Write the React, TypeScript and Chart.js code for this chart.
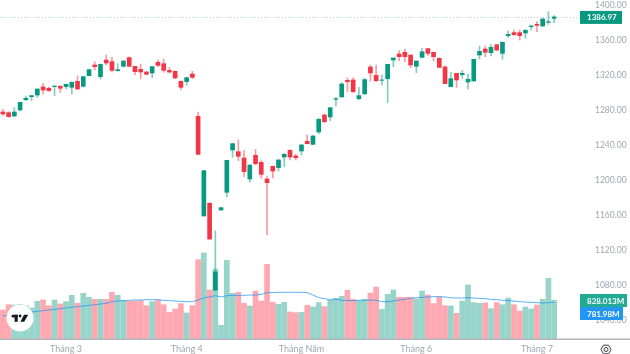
import React, { useEffect, useRef } from "react";
import { Chart, registerables } from "chart.js";

Chart.register(...registerables);

const monthTicks = [11, 32, 52, 72, 93];
const monthNames = ["Tháng 3", "Tháng 4", "Tháng Năm", "Tháng 6", "Tháng 7"];
const slotCount = 101;
const priceTicks = [1040, 1080, 1120, 1160, 1200, 1240, 1280, 1320, 1360, 1400];

const opens = [
  1278.3, 1277.5, 1273.7, 1280.6, 1292.4, 1295.8, 1297.7, 1306.9, 1305.4, 1307.3, 1307.6, 1307.3, 1306.5, 1313.4, 1307.6, 1319.8, 1332.0,
  1318.7, 1337.7, 1335.8, 1325.5, 1330.5, 1340.4, 1330.5, 1327.1, 1324.0, 1322.9, 1335.1, 1333.5, 1325.9, 1324.8, 1313.4, 1313.0, 1321.7,
  1273.3, 1159.4, 1173.9, 1074.8, 1166.3, 1186.5, 1234.9, 1232.9, 1225.7, 1201.7, 1228.8, 1220.8, 1201.7, 1216.2, 1214.7, 1226.8, 1234.5,
  1228.0, 1233.7, 1244.8, 1241.3, 1255.4, 1274.9, 1272.6, 1292.8, 1295.5, 1314.5, 1314.9, 1293.5, 1298.9, 1329.7, 1320.2, 1314.5, 1316.4,
  1337.7, 1344.6, 1346.5, 1343.4, 1330.5, 1340.8, 1350.7, 1346.5, 1339.6, 1329.7, 1307.2, 1322.5, 1320.9, 1312.6, 1313.7, 1343.4, 1350.3,
  1346.1, 1355.2, 1345.3, 1365.5, 1369.0, 1369.0, 1368.6, 1375.8, 1378.5, 1376.6, 1380.8, 1385.3,
];
const closes = [
  1276.0, 1273.0, 1278.3, 1289.4, 1293.9, 1297.0, 1304.6, 1303.4, 1302.7, 1308.0, 1305.4, 1309.9, 1312.2, 1304.6, 1318.7, 1326.7, 1330.1,
  1332.8, 1334.3, 1325.9, 1326.7, 1336.6, 1330.5, 1324.4, 1324.0, 1321.4, 1330.1, 1331.6, 1325.9, 1324.0, 1317.2, 1306.5, 1317.5, 1317.9,
  1229.9, 1211.2, 1133.1, 1095.4, 1168.9, 1223.0, 1242.1, 1227.6, 1210.1, 1217.7, 1219.2, 1207.0, 1197.5, 1210.8, 1223.4, 1229.9, 1226.8,
  1226.1, 1240.6, 1242.1, 1250.9, 1269.9, 1267.2, 1283.2, 1293.5, 1310.3, 1313.0, 1301.5, 1297.0, 1315.3, 1322.9, 1314.1, 1314.9, 1332.8,
  1340.0, 1341.5, 1341.5, 1332.0, 1336.6, 1347.2, 1345.3, 1341.5, 1329.3, 1310.7, 1316.4, 1314.9, 1322.5, 1315.6, 1338.5, 1347.6, 1346.5,
  1352.2, 1349.1, 1357.9, 1367.0, 1366.7, 1365.5, 1371.6, 1376.6, 1377.3, 1384.6, 1381.5, 1386.97,
];
const highs = [
  1281.4, 1278.7, 1283.3, 1289.4, 1296.6, 1297.4, 1304.6, 1310.7, 1306.9, 1308.0, 1308.8, 1310.3, 1313.0, 1319.5, 1318.7, 1327.1, 1335.8,
  1333.2, 1343.5, 1340.8, 1333.5, 1336.6, 1341.2, 1330.5, 1332.8, 1324.8, 1330.5, 1337.7, 1338.9, 1329.4, 1325.2, 1313.7, 1317.9, 1324.8,
  1278.3, 1211.2, 1175.0, 1142.3, 1169.3, 1223.0, 1242.5, 1246.3, 1234.1, 1217.7, 1235.6, 1222.7, 1204.4, 1216.6, 1224.6, 1231.0, 1234.9,
  1229.9, 1241.3, 1252.0, 1251.2, 1271.4, 1276.0, 1283.6, 1295.1, 1311.8, 1317.2, 1317.2, 1306.5, 1316.8, 1332.0, 1332.0, 1320.6, 1332.8,
  1340.0, 1348.4, 1349.9, 1343.4, 1336.6, 1351.0, 1350.7, 1346.5, 1340.4, 1331.2, 1323.6, 1322.5, 1325.9, 1321.3, 1338.5, 1353.7, 1353.7,
  1355.2, 1355.2, 1358.7, 1370.9, 1372.0, 1372.0, 1372.8, 1377.7, 1381.5, 1385.3, 1393.0, 1388.4,
];
const lows = [
  1274.5, 1272.2, 1273.0, 1279.4, 1291.3, 1291.3, 1295.1, 1298.9, 1301.9, 1297.0, 1300.8, 1304.6, 1298.9, 1303.8, 1306.9, 1319.5, 1326.3,
  1316.0, 1332.0, 1324.0, 1324.8, 1329.7, 1330.1, 1321.0, 1316.4, 1320.6, 1317.5, 1330.1, 1323.6, 1322.5, 1316.4, 1303.4, 1308.8, 1316.4,
  1229.9, 1159.4, 1132.0, 1073.7, 1165.9, 1181.1, 1226.5, 1222.7, 1204.4, 1197.9, 1217.7, 1202.5, 1137.7, 1202.8, 1210.8, 1215.8, 1223.4,
  1223.4, 1229.1, 1241.7, 1240.9, 1253.5, 1265.7, 1268.4, 1285.2, 1295.1, 1301.9, 1300.8, 1292.0, 1298.9, 1313.7, 1313.0, 1309.2, 1288.9,
  1330.1, 1336.9, 1335.8, 1328.9, 1323.2, 1340.0, 1343.0, 1336.6, 1328.9, 1310.3, 1307.2, 1306.5, 1316.8, 1304.6, 1313.7, 1338.9, 1341.5,
  1342.3, 1348.4, 1338.5, 1363.2, 1365.9, 1360.6, 1362.5, 1372.0, 1370.1, 1375.8, 1378.5, 1380.4,
];
const volumes = [
  618, 731, 724, 738, 703, 660, 802, 831, 710, 831, 746, 795, 930, 760, 973, 888, 845, 845, 845, 994, 930, 824, 802, 809, 817, 710, 795,
  831, 731, 568, 639, 753, 554, 710, 1690, 1832, 1044, 1491, 291, 1676, 973, 994, 760, 703, 1022, 809, 1590, 781, 738, 781, 575, 561, 568,
  717, 682, 774, 689, 831, 866, 909, 1037, 845, 817, 845, 980, 1108, 632, 951, 1044, 888, 888, 888, 852, 1022, 937, 753, 895, 710, 703, 547,
  809, 1150, 774, 760, 767, 646, 774, 731, 873, 731, 596, 682, 639, 724, 845, 1292, 828.013,
];
const volumeMA = [
  490, 504, 518, 533, 547, 575, 589, 604, 618, 632, 646, 660, 675, 689, 703, 717, 731, 746, 760, 795, 809, 817, 824, 831, 831, 838, 838, 838,
  824, 817, 809, 802, 795, 795, 831, 880, 895, 923, 895, 923, 930, 930, 930, 937, 937, 951, 987, 987, 994, 994, 994, 994, 994, 987, 937, 880,
  859, 831, 852, 824, 817, 817, 824, 824, 831, 824, 795, 795, 809, 831, 845, 866, 880, 888, 895, 902, 902, 895, 880, 873, 873, 880, 873, 866,
  859, 845, 838, 824, 817, 809, 795, 788, 781, 774, 767, 774, 781.98,
];

const GREEN = "#089981";
const RED = "#F23645";
const FONT = "Lato, 'Open Sans', sans-serif";

const isUp = (i: number) => closes[i] >= opens[i];
const labels = Array.from({ length: slotCount }, (_, i) => {
  const k = monthTicks.indexOf(i);
  return k >= 0 ? monthNames[k] : "";
});

function box(ctx: CanvasRenderingContext2D, y: number, w: number, h: number, color: string, text: string) {
  ctx.fillStyle = color;
  ctx.fillRect(580, y - h / 2, w, h);
  ctx.fillStyle = "#ffffff";
  ctx.font = `bold 8px ${FONT}`;
  ctx.textAlign = "left";
  ctx.textBaseline = "middle";
  ctx.fillText(text, 587, y + 0.5);
}

const overlay = {
  id: "overlay",
  afterDatasetsDraw(chart: any) {
    const ctx = chart.ctx as CanvasRenderingContext2D;
    const yP = chart.scales.y;
    const last = closes[closes.length - 1];
    const py = yP.getPixelForValue(last);
    ctx.save();
    ctx.strokeStyle = "rgba(8,153,129,0.35)";
    ctx.lineWidth = 1;
    ctx.setLineDash([1, 2]);
    ctx.beginPath();
    ctx.moveTo(0, Math.round(py) + 0.5);
    ctx.lineTo(580, Math.round(py) + 0.5);
    ctx.stroke();
    ctx.setLineDash([]);

    ctx.fillStyle = "#b2b5be";
    ctx.fillRect(0, 338.5, 630, 1.5);

    ctx.fillStyle = "#ffffff";
    ctx.beginPath();
    ctx.arc(20, 318, 13.5, 0, Math.PI * 2);
    ctx.fill();
    ctx.fillStyle = "#131722";
    ctx.fillRect(11.7, 314.8, 6, 2.6);
    ctx.fillRect(14.6, 314.8, 3.1, 7);
    ctx.beginPath();
    ctx.arc(20.1, 316, 1.4, 0, Math.PI * 2);
    ctx.fill();
    ctx.beginPath();
    ctx.moveTo(24, 314.8);
    ctx.lineTo(28.2, 314.8);
    ctx.lineTo(24.2, 321.8);
    ctx.lineTo(20.4, 321.8);
    ctx.closePath();
    ctx.fill();

    ctx.strokeStyle = "#3a3e48";
    ctx.lineWidth = 1;
    ctx.beginPath();
    for (let k = 0; k < 6; k++) {
      const a = (Math.PI / 3) * k;
      const px = 606 + 5 * Math.cos(a);
      const pyy = 349.5 + 5 * Math.sin(a);
      if (k === 0) ctx.moveTo(px, pyy);
      else ctx.lineTo(px, pyy);
    }
    ctx.closePath();
    ctx.stroke();
    ctx.beginPath();
    ctx.arc(606, 349.5, 2, 0, Math.PI * 2);
    ctx.stroke();

    box(ctx, py + 0.5, 42, 13, GREEN, last.toFixed(2));
    box(ctx, 300.5, 47, 13, "#22ab94", volumes[volumes.length - 1].toFixed(3) + "M");
    box(ctx, 313.5, 43, 13, "#2196f3", volumeMA[volumeMA.length - 1].toFixed(2) + "M");
    ctx.restore();
  },
};

const zeroPadding = (s: any) => {
  s.paddingTop = 0;
  s.paddingBottom = 0;
  s.paddingLeft = 0;
  s.paddingRight = 0;
};

export default function App() {
  const ref = useRef<HTMLCanvasElement>(null);
  useEffect(() => {
    const chart = new Chart(ref.current as HTMLCanvasElement, {
      type: "bar",
      data: {
        labels,
        datasets: [
          {
            type: "bar",
            label: "Body",
            data: opens.map((o, i) => [o, closes[i]]),
            backgroundColor: opens.map((_, i) => (isUp(i) ? GREEN : RED)),
            barThickness: 4,
            grouped: false,
            yAxisID: "y",
            order: 0,
            borderSkipped: false,
          },
          {
            type: "bar",
            label: "Wick",
            data: lows.map((l, i) => [l, highs[i]]),
            backgroundColor: opens.map((_, i) => (isUp(i) ? "rgba(8,153,129,0.5)" : "rgba(242,54,69,0.5)")),
            barThickness: 1,
            grouped: false,
            yAxisID: "y",
            order: 1,
            borderSkipped: false,
          },
          {
            type: "line",
            label: "Volume MA",
            data: volumeMA,
            borderColor: "rgba(33,150,243,0.75)",
            borderWidth: 1,
            pointRadius: 0,
            tension: 0,
            yAxisID: "yVol",
            order: 2,
          },
          {
            type: "bar",
            label: "Volume",
            data: volumes,
            backgroundColor: opens.map((_, i) => (isUp(i) ? "rgba(8,153,129,0.42)" : "rgba(255,82,100,0.5)")),
            barThickness: 5,
            grouped: false,
            yAxisID: "yVol",
            order: 3,
          },
        ],
      } as any,
      options: {
        responsive: false,
        animation: false,
        layout: { padding: 0 },
        plugins: { legend: { display: false }, tooltip: { enabled: false } },
        scales: {
          x: {
            type: "category",
            grid: { display: false, drawTicks: false },
            border: { display: false },
            afterFit: (s: any) => {
              s.height = 15;
              zeroPadding(s);
            },
            ticks: {
              autoSkip: false,
              maxRotation: 0,
              minRotation: 0,
              padding: 5,
              color: "#a3a6af",
              font: { family: FONT, size: 9 },
            },
          },
          y: {
            position: "right",
            min: 1018.8,
            max: 1406.3,
            grid: { display: false },
            border: { display: false },
            afterBuildTicks: (s: any) => {
              s.ticks = priceTicks.map((value) => ({ value }));
            },
            afterFit: (s: any) => {
              s.width = 50;
              zeroPadding(s);
            },
            ticks: {
              padding: 7,
              color: "#a3a6af",
              font: { family: FONT, size: 8.5 },
              callback: (v: any) => Number(v).toFixed(2),
            },
          },
          yVol: {
            display: false,
            min: 0,
            max: 7221,
            grid: { display: false },
          },
        },
      } as any,
      plugins: [overlay as any],
    });
    return () => chart.destroy();
  }, []);
  return (
    <div style={{ position: "absolute", left: 0, top: 0, width: 630, height: 354, background: "#ffffff" }}>
      <canvas ref={ref} width={630} height={354} style={{ display: "block" }} />
    </div>
  );
}
